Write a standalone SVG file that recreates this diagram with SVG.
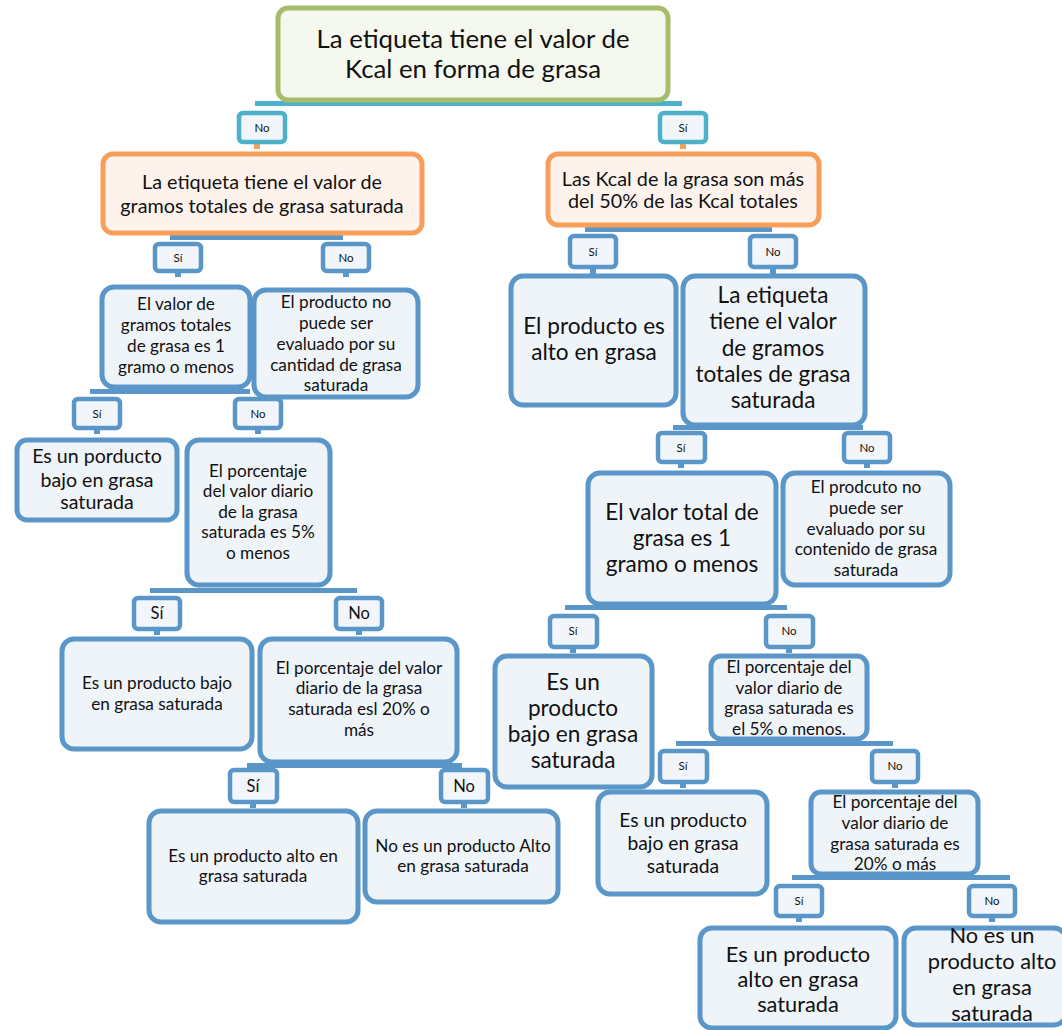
<svg xmlns="http://www.w3.org/2000/svg" width="1062" height="1030" viewBox="0 0 1062 1030">
<style>
text{font-family:Lato,"Open Sans","Liberation Sans",sans-serif;fill:#111;text-anchor:middle}
.node{fill:#EFF4F9;stroke:#5A96C8;stroke-width:5}
.root{fill:#F5F8EF;stroke:#A7BD6C;stroke-width:5}
.q{fill:#FDF3EC;stroke:#F79E5B;stroke-width:5}
.lab{fill:#F2F6FA;stroke:#5A96C8;stroke-width:4.5}
.labc{fill:#F2F6FA;stroke:#4DB1C9;stroke-width:4.5}
.bar{fill:#5A96C8}
.barc{fill:#4DB1C9}
.tick{fill:#5A96C8}
.ticko{fill:#F79E5B}
.s11{font-size:11.5px}.sl{font-size:16.5px}.s16{font-size:17.2px}.s17{font-size:19.8px}.s18{font-size:19.3px}.s19{font-size:19.6px}.s21{font-size:21.8px}.s22{font-size:22.6px}.s23{font-size:25.8px}
</style>
<g id="connectors">
<rect class="barc" x="255" y="101" width="427" height="5"/>
<rect class="ticko" x="254" y="142" width="6" height="7"/>
<rect class="ticko" x="680" y="142" width="6" height="7"/>
<rect class="bar" x="170" y="235" width="173" height="5"/>
<rect class="tick" x="175" y="270" width="6" height="7"/>
<rect class="tick" x="343" y="270" width="6" height="7"/>
<rect class="bar" x="585" y="227" width="187" height="5"/>
<rect class="tick" x="590" y="266" width="6" height="8"/>
<rect class="tick" x="770" y="266" width="6" height="8"/>
<rect class="bar" x="90" y="389" width="160" height="5"/>
<rect class="tick" x="94" y="427" width="6" height="7"/>
<rect class="tick" x="255" y="427" width="6" height="7"/>
<rect class="bar" x="150" y="588" width="207" height="5"/>
<rect class="tick" x="154" y="628" width="6" height="7"/>
<rect class="tick" x="356" y="628" width="6" height="7"/>
<rect class="bar" x="247" y="763" width="215" height="5"/>
<rect class="tick" x="250" y="801" width="6" height="7"/>
<rect class="tick" x="461" y="801" width="6" height="7"/>
<rect class="bar" x="673" y="425" width="190" height="5"/>
<rect class="tick" x="678" y="461" width="6" height="7"/>
<rect class="tick" x="864" y="461" width="6" height="7"/>
<rect class="bar" x="565" y="605" width="222" height="5"/>
<rect class="tick" x="570" y="646" width="6" height="7"/>
<rect class="tick" x="786" y="646" width="6" height="7"/>
<rect class="bar" x="676" y="741" width="217" height="5"/>
<rect class="tick" x="680" y="781" width="6" height="7"/>
<rect class="tick" x="892" y="781" width="6" height="7"/>
<rect class="bar" x="792" y="875" width="218" height="5"/>
<rect class="tick" x="796" y="915" width="6" height="7"/>
<rect class="tick" x="989" y="915" width="6" height="7"/>
</g>
<g id="labels">
<rect class="labc" x="239" y="113" width="46" height="29" rx="4"/><text class="s11" x="262" y="132">No</text>
<rect class="labc" x="660" y="113" width="46" height="29" rx="4"/><text class="s11" x="683" y="132">Sí</text>
<rect class="lab" x="155" y="244" width="46" height="27" rx="4"/><text class="s11" x="178" y="262">Sí</text>
<rect class="lab" x="323" y="244" width="46" height="27" rx="4"/><text class="s11" x="346" y="262">No</text>
<rect class="lab" x="570" y="236" width="46" height="31" rx="4"/><text class="s11" x="593" y="256">Sí</text>
<rect class="lab" x="750" y="236" width="46" height="31" rx="4"/><text class="s11" x="773" y="256">No</text>
<rect class="lab" x="74" y="399" width="46" height="29" rx="4"/><text class="s11" x="97" y="418">Sí</text>
<rect class="lab" x="235" y="399" width="46" height="29" rx="4"/><text class="s11" x="258" y="418">No</text>
<rect class="lab" x="134" y="598" width="46" height="31" rx="4"/><text class="sl" x="157" y="619">Sí</text>
<rect class="lab" x="336" y="598" width="46" height="31" rx="4"/><text class="sl" x="359" y="619">No</text>
<rect class="lab" x="230" y="770" width="47" height="32" rx="4"/><text class="sl" x="253" y="792">Sí</text>
<rect class="lab" x="441" y="770" width="47" height="32" rx="4"/><text class="sl" x="464" y="792">No</text>
<rect class="lab" x="658" y="433" width="47" height="29" rx="4"/><text class="s11" x="681" y="452">Sí</text>
<rect class="lab" x="844" y="433" width="46" height="29" rx="4"/><text class="s11" x="867" y="452">No</text>
<rect class="lab" x="550" y="616" width="47" height="31" rx="4"/><text class="s11" x="573" y="635">Sí</text>
<rect class="lab" x="766" y="616" width="47" height="31" rx="4"/><text class="s11" x="789" y="635">No</text>
<rect class="lab" x="660" y="751" width="47" height="31" rx="4"/><text class="s11" x="683" y="770">Sí</text>
<rect class="lab" x="872" y="751" width="46" height="31" rx="4"/><text class="s11" x="895" y="770">No</text>
<rect class="lab" x="776" y="886" width="46" height="30" rx="4"/><text class="s11" x="799" y="905">Sí</text>
<rect class="lab" x="969" y="886" width="46" height="30" rx="4"/><text class="s11" x="992" y="905">No</text>
</g>
<g id="n0"><rect class="root" x="278" y="8" width="390" height="92" rx="10"/><text class="s23" x="473" y="48">La etiqueta tiene el valor de</text><text class="s23" x="473" y="78">Kcal en forma de grasa</text></g>
<g id="n1"><rect class="q" x="103" y="154" width="319" height="79" rx="10"/><text class="s17" x="262" y="189">La etiqueta tiene el valor de</text><text class="s17" x="262" y="213">gramos totales de grasa saturada</text></g>
<g id="n2"><rect class="q" x="548" y="154" width="271" height="71" rx="10"/><text class="s17" x="683" y="186">Las Kcal de la grasa son más</text><text class="s17" x="683" y="208">del 50% de las Kcal totales</text></g>
<g id="n3"><rect class="node" x="102" y="287" width="148" height="100" rx="12"/><text class="s16" x="176" y="310">El valor de</text><text class="s16" x="176" y="331">gramos totales</text><text class="s16" x="176" y="352">de grasa es 1</text><text class="s16" x="176" y="373">gramo o menos</text></g>
<g id="n4"><rect class="node" x="254" y="290" width="164" height="107" rx="12"/><text class="s16" x="336" y="308">El producto no</text><text class="s16" x="336" y="329">puede ser</text><text class="s16" x="336" y="350">evaluado por su</text><text class="s16" x="336" y="371">cantidad de grasa</text><text class="s16" x="336" y="391">saturada</text></g>
<g id="n5"><rect class="node" x="17" y="440" width="160" height="80" rx="10"/><text class="s19" x="97" y="463">Es un porducto</text><text class="s19" x="97" y="487">bajo en grasa</text><text class="s19" x="97" y="509">saturada</text></g>
<g id="n6"><rect class="node" x="187" y="440" width="143" height="145" rx="12"/><text class="s16" x="258" y="477">El porcentaje</text><text class="s16" x="258" y="497">del valor diario</text><text class="s16" x="258" y="518">de la grasa</text><text class="s16" x="258" y="538">saturada es 5%</text><text class="s16" x="258" y="559">o menos</text></g>
<g id="n7"><rect class="node" x="62" y="639" width="190" height="110" rx="12"/><text class="s16" x="157" y="689">Es un producto bajo</text><text class="s16" x="157" y="710">en grasa saturada</text></g>
<g id="n8"><rect class="node" x="260" y="639" width="197" height="123" rx="12"/><text class="s16" x="359" y="674">El porcentaje del valor</text><text class="s16" x="359" y="694">diario de la grasa</text><text class="s16" x="359" y="715">saturada esl 20% o</text><text class="s16" x="359" y="736">más</text></g>
<g id="n9"><rect class="node" x="149" y="811" width="209" height="111" rx="12"/><text class="s16" x="253" y="862">Es un producto alto en</text><text class="s16" x="253" y="882">grasa saturada</text></g>
<g id="n10"><rect class="node" x="365" y="811" width="193" height="91" rx="12"/><text class="s16" x="463" y="852">No es un producto Alto</text><text class="s16" x="463" y="872">en grasa saturada</text></g>
<g id="n11"><rect class="node" x="511" y="276" width="165" height="129" rx="12"/><text class="s22" x="594" y="334">El producto es</text><text class="s22" x="594" y="360">alto en grasa</text></g>
<g id="n12"><rect class="node" x="683" y="276" width="182" height="149" rx="12"/><text class="s22" x="773" y="303">La etiqueta</text><text class="s22" x="773" y="329">tiene el valor</text><text class="s22" x="773" y="356">de gramos</text><text class="s22" x="773" y="382">totales de grasa</text><text class="s22" x="773" y="408">saturada</text></g>
<g id="n13"><rect class="node" x="588" y="473" width="188" height="131" rx="12"/><text class="s22" x="682" y="520">El valor total de</text><text class="s22" x="682" y="546">grasa es 1</text><text class="s22" x="682" y="572">gramo o menos</text></g>
<g id="n14"><rect class="node" x="783" y="473" width="167" height="112" rx="12"/><text class="s16" x="866" y="493">El prodcuto no</text><text class="s16" x="866" y="514">puede ser</text><text class="s16" x="866" y="535">evaluado por su</text><text class="s16" x="866" y="555">contenido de grasa</text><text class="s16" x="866" y="576">saturada</text></g>
<g id="n15"><rect class="node" x="495" y="656" width="157" height="131" rx="12"/><text class="s22" x="573" y="690">Es un</text><text class="s22" x="573" y="716">producto</text><text class="s22" x="573" y="742">bajo en grasa</text><text class="s22" x="573" y="768">saturada</text></g>
<g id="n16"><rect class="node" x="711" y="656" width="156" height="83" rx="10"/><text class="s16" x="789" y="673">El porcentaje del</text><text class="s16" x="789" y="694">valor diario de</text><text class="s16" x="789" y="714">grasa saturada es</text><text class="s16" x="789" y="735">el 5% o menos.</text></g>
<g id="n17"><rect class="node" x="598" y="792" width="169" height="102" rx="12"/><text class="s18" x="683" y="827">Es un producto</text><text class="s18" x="683" y="850">bajo en grasa</text><text class="s18" x="683" y="873">saturada</text></g>
<g id="n18"><rect class="node" x="811" y="792" width="167" height="82" rx="10"/><text class="s16" x="895" y="808">El porcentaje del</text><text class="s16" x="895" y="829">valor diario de</text><text class="s16" x="895" y="850">grasa saturada es</text><text class="s16" x="895" y="870">20% o más</text></g>
<g id="n19"><rect class="node" x="700" y="928" width="196" height="100" rx="12"/><text class="s21" x="798" y="962">Es un producto</text><text class="s21" x="798" y="987">alto en grasa</text><text class="s21" x="798" y="1012">saturada</text></g>
<g id="n20"><rect class="node" x="904" y="928" width="162" height="97" rx="12"/><text class="s21" x="992" y="943">No es un</text><text class="s21" x="992" y="969">producto alto</text><text class="s21" x="992" y="995">en grasa</text><text class="s21" x="992" y="1021">saturada</text></g>
</svg>
